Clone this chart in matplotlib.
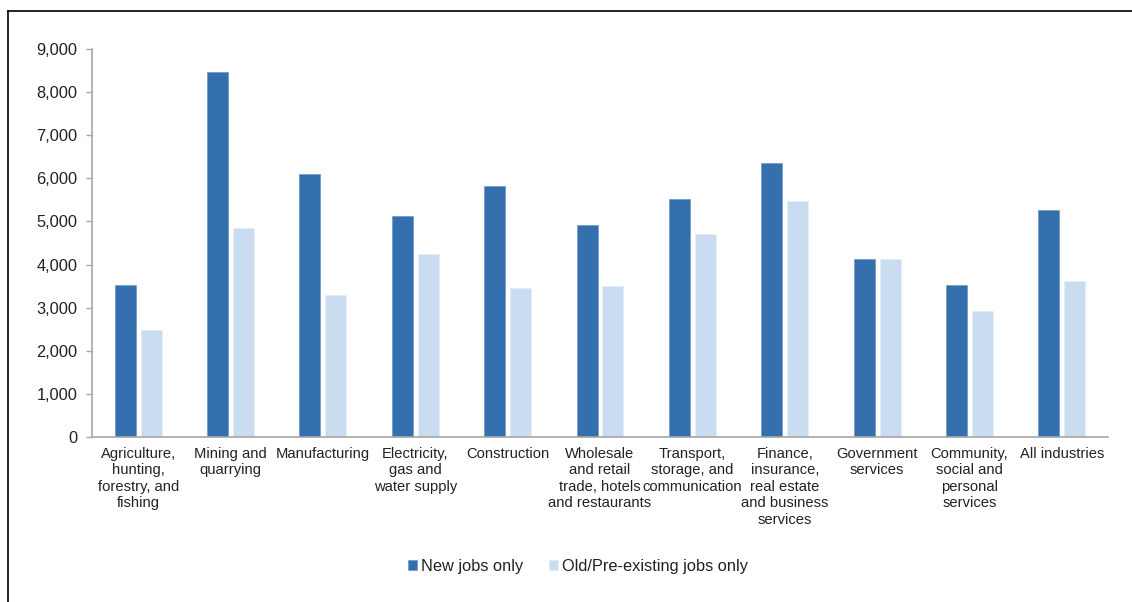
import matplotlib.pyplot as plt
import numpy as np
from matplotlib.lines import Line2D

plt.rcParams['font.family'] = ['Liberation Sans', 'DejaVu Sans']

# data
categories = [
    "Agriculture,\nhunting,\nforestry, and\nfishing",
    "Mining and\nquarrying",
    "Manufacturing",
    "Electricity,\ngas and\nwater supply",
    "Construction",
    "Wholesale\nand retail\ntrade, hotels\nand restaurants",
    "Transport,\nstorage, and\ncommunication",
    "Finance,\ninsurance,\nreal estate\nand business\nservices",
    "Government\nservices",
    "Community,\nsocial and\npersonal\nservices",
    "All industries",
]
new_jobs = [3535, 8460, 6110, 5120, 5815, 4915, 5525, 6365, 4125, 3535, 5255]
old_jobs = [2490, 4850, 3295, 4245, 3455, 3495, 4715, 5465, 4125, 2915, 3610]
series_names = ["New jobs only", "Old/Pre-existing jobs only"]
yticks = [0, 1000, 2000, 3000, 4000, 5000, 6000, 7000, 8000, 9000]

dark = '#3470ae'
light = '#c9dcf0'
grey = '#a6a6a6'

fig = plt.figure(figsize=(11.32, 6.02), dpi=100)
ax = fig.add_axes([92/1132, 1-437/602, (1108-92)/1132, (437-49)/602])

x = np.arange(len(categories))
w = 0.227
gap = 0.054
ax.bar(x - (w + gap)/2, new_jobs, w, color=dark, edgecolor='#6f97c6', linewidth=0.5, label=series_names[0])
ax.bar(x + (w + gap)/2, old_jobs, w, color=light, edgecolor='#e3edf8', linewidth=0.5, label=series_names[1])

ax.set_xlim(-0.5, len(categories) - 0.5)
ax.set_ylim(0, 9000)
ax.set_yticks(yticks)
ax.set_yticklabels([f"{v:,}" for v in yticks])
ax.set_xticks(x)
ax.set_xticklabels(categories, linespacing=1.23)

for s in ['top', 'right']:
    ax.spines[s].set_visible(False)
for s in ['left', 'bottom']:
    ax.spines[s].set_color(grey)
    ax.spines[s].set_linewidth(1.2)
ax.tick_params(axis='y', length=4.5, color=grey, width=1, pad=6, labelsize=11.8, labelcolor='#222222')
ax.tick_params(axis='x', length=0, pad=7, labelsize=10.6, labelcolor='#222222')

fig.legend(loc='center', bbox_to_anchor=(578/1132, 1-566/602), ncol=2, frameon=False,
           handlelength=0.55, handleheight=0.55, handletextpad=0.25, columnspacing=1.55,
           fontsize=11.8, labelcolor='#222222')

# outer frame (top and left only)
fig.add_artist(Line2D([8/1132, 1], [1-11/602, 1-11/602], color='black', lw=1.2, transform=fig.transFigure))
fig.add_artist(Line2D([8/1132, 8/1132], [0, 1-11/602], color='black', lw=1.2, transform=fig.transFigure))

fig.savefig('out.png', dpi=100)
